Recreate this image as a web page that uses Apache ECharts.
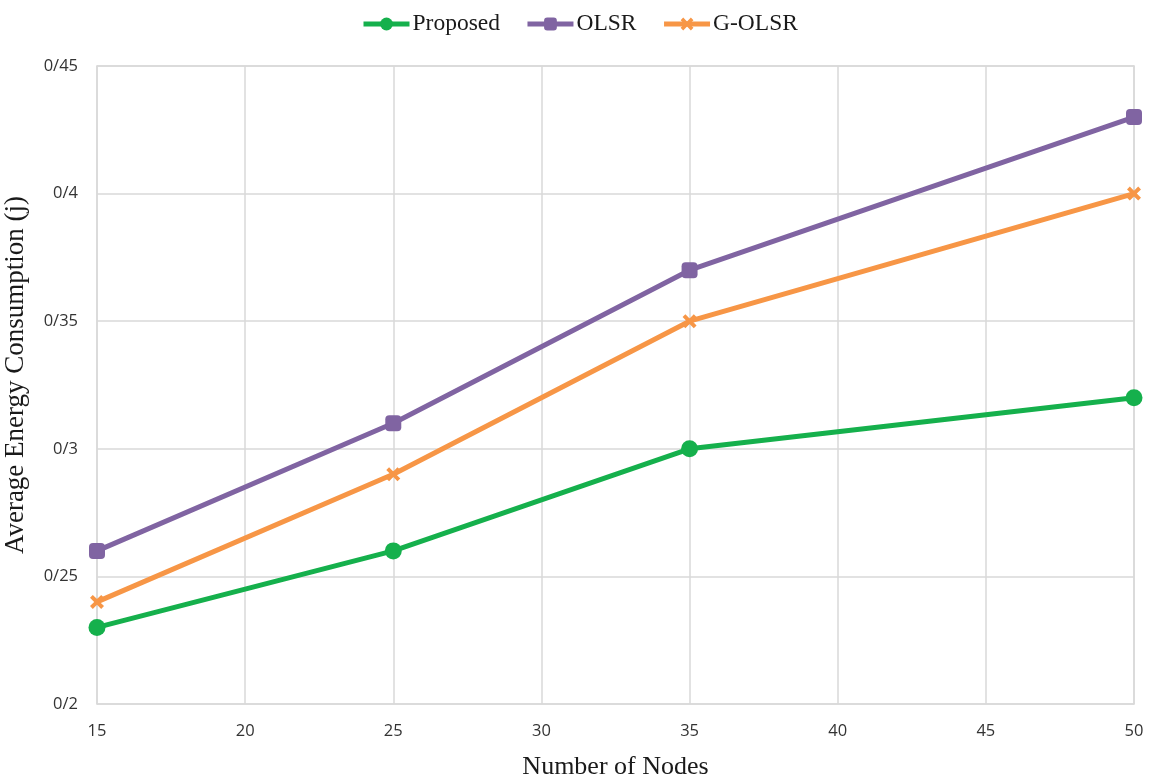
<!DOCTYPE html>
<html>
<head>
<meta charset="utf-8">
<script src="https://cdn.jsdelivr.net/npm/echarts@6/dist/echarts.min.js"></script>
<style>
  html, body { margin: 0; padding: 0; background: #ffffff; }
  #chart { width: 1160px; height: 779px; }
</style>
</head>
<body>
<div id="chart"></div>
<script>
// Number of nodes on the x axis
const nodes = [15, 25, 35, 50];
// Average energy consumption (J) per protocol
const proposed = [0.23, 0.26, 0.30, 0.32];
const olsr = [0.26, 0.31, 0.37, 0.43];
const golsr = [0.24, 0.29, 0.35, 0.40];
const seriesNames = ['Proposed', 'OLSR', 'G-OLSR'];

const pairs = arr => nodes.map((n, i) => [n, arr[i]]);
const crossPath = 'path://M2,0 L5,3 L8,0 L10,2 L7,5 L10,8 L8,10 L5,7 L2,10 L0,8 L3,5 L0,2 Z';
// Tick labels use "/" as the decimal separator
const fmtY = v => String(+v.toFixed(2)).replace('.', '/');

const tickFont = { fontFamily: '"Open Sans", "DejaVu Sans", sans-serif', fontSize: 16.5, color: '#333333' };
const serif = '"Liberation Serif", "Times New Roman", serif';
const gridColor = '#d9d9d9';

const chart = echarts.init(document.getElementById('chart'), null, { renderer: 'canvas' });
chart.setOption({
  animation: false,
  backgroundColor: '#ffffff',
  color: ['#15b04c', '#8064a2', '#f79646'],
  legend: {
    top: 7,
    left: 356,
    itemWidth: 46,
    itemHeight: 16,
    itemGap: 25,
    lineStyle: { width: 5 },
    textStyle: { fontFamily: serif, fontSize: 23.5, color: '#1a1a1a', padding: [0, 0, 0, -2] },
    data: seriesNames
  },
  grid: { left: 97, right: 26, top: 66, bottom: 75, containLabel: false, outerBoundsMode: 'none' },
  xAxis: [{
    type: 'value',
    min: 15, max: 50, interval: 5,
    name: 'Number of Nodes',
    nameLocation: 'middle',
    nameGap: 50,
    nameTextStyle: { fontFamily: serif, fontSize: 26, color: '#1a1a1a' },
    axisLine: { show: true, lineStyle: { color: gridColor, width: 1.5 } },
    axisTick: { show: false },
    axisLabel: Object.assign({ margin: 19 }, tickFont),
    splitLine: { show: true, lineStyle: { color: gridColor, width: 1.5 } }
  }, {
    // top border of the plot area
    type: 'value', position: 'top', min: 15, max: 50, interval: 5,
    axisLine: { show: true, lineStyle: { color: gridColor, width: 1.5 } },
    axisTick: { show: false }, axisLabel: { show: false }, splitLine: { show: false }
  }],
  yAxis: [{
    type: 'value',
    min: 0.2, max: 0.45, interval: 0.05,
    name: 'Average Energy Consumption (j)',
    nameLocation: 'middle',
    nameGap: 68,
    nameTextStyle: { fontFamily: serif, fontSize: 27, color: '#1a1a1a', padding: [0, 0, 0, 20] },
    axisLine: { show: true, lineStyle: { color: gridColor, width: 1.5 } },
    axisTick: { show: false },
    axisLabel: Object.assign({ margin: 19, formatter: fmtY }, tickFont),
    splitLine: { show: true, lineStyle: { color: gridColor, width: 1.5 } }
  }, {
    // right border of the plot area
    type: 'value', position: 'right', min: 0.2, max: 0.45, interval: 0.05,
    axisLine: { show: true, lineStyle: { color: gridColor, width: 1.5 } },
    axisTick: { show: false }, axisLabel: { show: false }, splitLine: { show: false }
  }],
  series: [
    {
      name: 'Proposed', type: 'line', data: pairs(proposed),
      symbol: 'circle', symbolSize: 17,
      lineStyle: { width: 5 }, z: 4
    },
    {
      name: 'OLSR', type: 'line', data: pairs(olsr),
      symbol: 'roundRect', symbolSize: 16,
      lineStyle: { width: 5 }, z: 3
    },
    {
      name: 'G-OLSR', type: 'line', data: pairs(golsr),
      symbol: crossPath, symbolSize: 14,
      lineStyle: { width: 5 }, z: 5
    }
  ]
});
</script>
</body>
</html>
